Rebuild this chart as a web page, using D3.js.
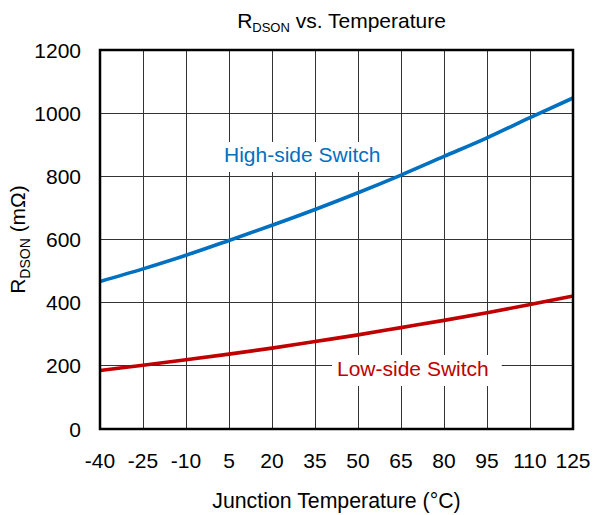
<!DOCTYPE html>
<html><head><meta charset="utf-8">
<script src="https://cdn.jsdelivr.net/npm/d3@7"></script>
<style>body{margin:0;background:#fff}svg{display:block;font-family:"Liberation Sans",Arial,sans-serif}</style>
</head><body><svg id="c" width="593" height="515"></svg>
<script>
const temps = [-40,-25,-10,5,20,35,50,65,80,95,110,125];
const highSide = [467,507,550,597,645,695,748,804,863,922,986,1048];
const lowSide = [185,202,219,237,256,277,298,321,344,368,394,421];
const yTicks = [0,200,400,600,800,1000,1200];
const xTicks = temps;

const svg = d3.select("#c");
const L=100,R=573,T=50,B=429;
const x = d3.scaleLinear().domain([-40,125]).range([L,R]);
const y = d3.scaleLinear().domain([0,1200]).range([B,T]);

// grid
const g = svg.append("g");
g.selectAll(".vx").data(xTicks).enter().append("line")
 .attr("x1",d=>x(d)).attr("x2",d=>x(d)).attr("y1",T).attr("y2",B)
 .attr("stroke","#333").attr("stroke-width",1).attr("shape-rendering","crispEdges");
g.selectAll(".hy").data(yTicks).enter().append("line")
 .attr("y1",d=>y(d)).attr("y2",d=>y(d)).attr("x1",L).attr("x2",R)
 .attr("stroke","#333").attr("stroke-width",1).attr("shape-rendering","crispEdges");

function label(txt,tx,ty,color,padL,padR,top,bot){
  const t = svg.append("text").attr("x",tx).attr("y",ty).attr("font-size",21).attr("fill",color).text(txt);
  const w = t.node().getComputedTextLength();
  svg.insert("rect","text").attr("x",tx-padL).attr("y",top).attr("width",w+padL+padR).attr("height",bot-top).attr("fill","#fff");
  t.raise();
}

// curves
const line = d3.line().x((d,i)=>x(temps[i])).y(d=>y(d)).curve(d3.curveMonotoneX);
svg.append("path").datum(highSide).attr("d",line).attr("fill","none").attr("stroke","#0070C0").attr("stroke-width",3.6);
svg.append("path").datum(lowSide).attr("d",line).attr("fill","none").attr("stroke","#C00000").attr("stroke-width",3.6);

label("High-side Switch",224,162,"#0070C0",6,8,142,172);
label("Low-side Switch",337,376,"#C00000",5,13,355,386);

// border
svg.append("rect").attr("x",L).attr("y",T).attr("width",R-L).attr("height",B-T)
 .attr("fill","none").attr("stroke","#000").attr("stroke-width",2.5);

// tick labels
svg.selectAll(".yl").data(yTicks).enter().append("text")
 .attr("x",81).attr("y",d=>y(d)).attr("dy","0.36em").attr("text-anchor","end")
 .attr("font-size",21).attr("fill","#000").text(d=>d);
svg.selectAll(".xl").data(xTicks).enter().append("text")
 .attr("x",d=>x(d)).attr("y",468).attr("text-anchor","middle")
 .attr("font-size",21).attr("fill","#000").text(d=>d);

// title
const title = svg.append("text").attr("x",(L+R)/2+5).attr("y",28).attr("text-anchor","middle").attr("font-size",21);
title.append("tspan").text("R");
title.append("tspan").attr("font-size",13).attr("dy",4).text("DSON");
title.append("tspan").attr("dy",-4).text(" vs. Temperature");

// x axis title
svg.append("text").attr("x",(L+R)/2).attr("y",508).attr("text-anchor","middle").attr("font-size",21.3).text("Junction Temperature (°C)");

// y axis title
const yt = svg.append("text").attr("transform",`translate(25,${(T+B)/2}) rotate(-90)`).attr("text-anchor","middle").attr("font-size",21);
yt.append("tspan").text("R");
yt.append("tspan").attr("font-size",14).attr("dy",5).text("DSON");
yt.append("tspan").attr("dy",-5).text(" (mΩ)");
</script></body></html>
